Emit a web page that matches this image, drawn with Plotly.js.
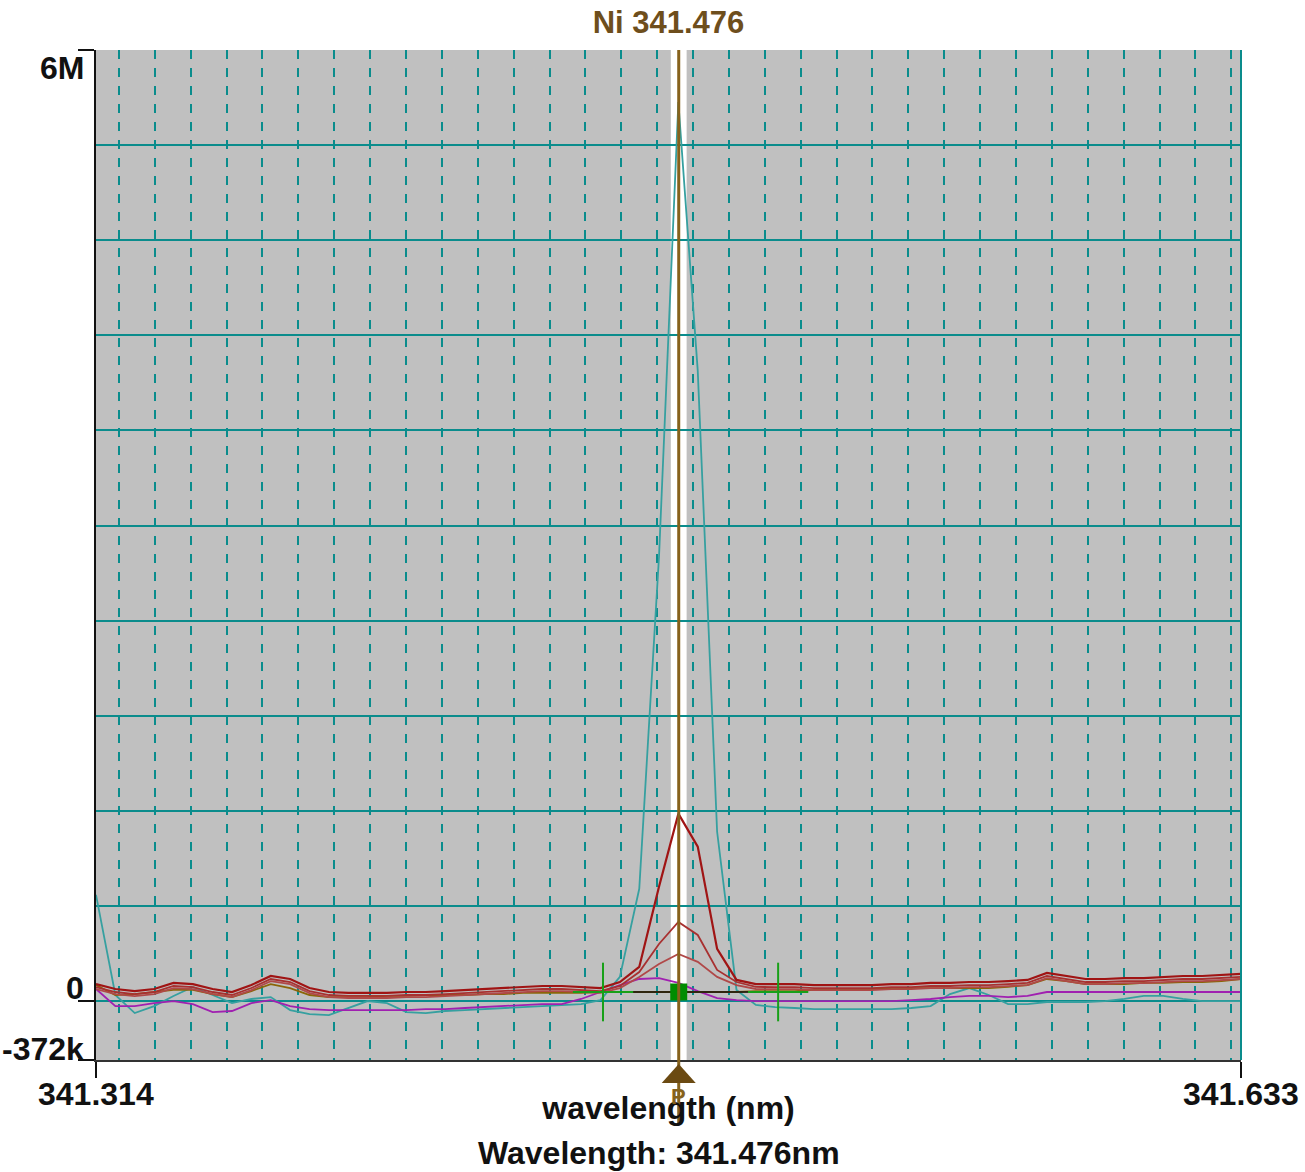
<!DOCTYPE html>
<html>
<head>
<meta charset="utf-8">
<script src="https://cdn.plot.ly/plotly-3.0.1.min.js"></script>
<style>html,body{margin:0;padding:0;background:#fff;}#chart{width:1305px;height:1172px;}</style>
</head>
<body>
<div id="chart"></div>
<script>
// ---- data ----
const wavelength = [341.3136,341.3190,341.3244,341.3298,341.3352,341.3406,341.3461,341.3515,341.3569,341.3623,
  341.3677,341.3731,341.3785,341.3839,341.3893,341.3947,341.4001,341.4055,341.4109,341.4164,
  341.4218,341.4272,341.4326,341.4380,341.4434,341.4488,341.4542,341.4596,341.4650,341.4705,
  341.4759,341.4813,341.4867,341.4921,341.4975,341.5029,341.5083,341.5137,341.5191,341.5245,
  341.5299,341.5353,341.5408,341.5462,341.5516,341.5570,341.5624,341.5678,341.5732,341.5786,
  341.5840,341.5894,341.5948,341.6002,341.6056,341.6110,341.6165,341.6219,341.6273,341.6327];

const tealSeries = [670000,38000,-76000,-32000,32000,89000,38000,-13000,13000,25000,
  -57000,-82000,-89000,-44000,0,-13000,-70000,-76000,-63000,-57000,
  -51000,-44000,-38000,-32000,-25000,-19000,6000,152000,708000,2801000,
  5671000,3977000,1068000,70000,-25000,-38000,-44000,-51000,-51000,-51000,
  -51000,-51000,-44000,-32000,44000,82000,38000,-19000,-19000,-6000,
  -6000,-6000,0,13000,32000,32000,13000,0,0,0];

const red1Series = [107000,76000,63000,76000,114000,107000,76000,57000,101000,158000,
  139000,82000,57000,51000,51000,51000,57000,57000,63000,70000,
  76000,82000,89000,95000,95000,89000,82000,120000,215000,721000,
  1182000,974000,329000,133000,107000,107000,107000,101000,101000,101000,
  101000,107000,107000,114000,114000,120000,120000,126000,133000,177000,
  158000,139000,139000,145000,145000,152000,158000,158000,164000,171000];

const red2Series = [88000,57000,44000,57000,95000,88000,57000,38000,82000,139000,
  120000,63000,38000,32000,32000,32000,38000,38000,44000,51000,
  57000,63000,70000,76000,76000,70000,63000,95000,183000,360000,
  499000,417000,196000,120000,89000,88000,88000,82000,82000,82000,
  82000,88000,88000,95000,95000,101000,101000,107000,114000,158000,
  139000,120000,120000,126000,126000,133000,139000,139000,145000,152000];

const red3Series = [75000,44000,31000,44000,82000,75000,44000,25000,69000,126000,
  107000,50000,25000,19000,19000,19000,25000,25000,31000,38000,
  44000,50000,57000,63000,63000,57000,51000,82000,152000,234000,
  297000,247000,152000,101000,76000,75000,75000,69000,69000,69000,
  69000,75000,75000,82000,82000,88000,88000,94000,101000,145000,
  126000,107000,107000,113000,113000,120000,126000,126000,132000,139000];

const brownSeries = [101000,38000,44000,57000,70000,70000,44000,25000,63000,107000,
  82000,38000,25000,25000,25000,32000,32000,38000,38000,38000,
  44000,44000,51000,51000,51000,51000,57000,57000,57000,57000,
  57000,57000,57000,57000,63000,63000,63000,70000,70000,70000,
  76000,82000,82000,82000,82000,82000,82000,89000,101000,139000,
  126000,107000,107000,107000,114000,114000,120000,120000,126000,139000];

const purpleSeries = [76000,-32000,-32000,-13000,0,-19000,-70000,-63000,-13000,6000,
  -32000,-51000,-57000,-57000,-57000,-57000,-57000,-51000,-51000,-44000,
  -38000,-32000,-25000,-19000,-19000,13000,57000,101000,139000,145000,
  114000,63000,19000,6000,0,0,0,0,0,0,
  0,0,6000,13000,25000,32000,32000,25000,32000,57000,
  57000,57000,57000,57000,57000,57000,57000,57000,57000,57000];

const lineTitle = "Ni 341.476";
const markerWavelength = 341.476;
const bgLeftWl = 341.4549;
const bgRightWl = 341.5037;
const baselineLevel = 57000;
const xRange = [341.3136, 341.6327];
const yRange = [-372000, 6000000];
const xTickLabels = ["341.314", "341.633"];
const yTickVals = [-372000, 0, 6000000];
const yTickLabels = ["-372k", "0", "6M"];
const xAxisTitle = "wavelength (nm)";
const footerText = "Wavelength: 341.476nm";

// ---- styling ----
const FONT = "Liberation Sans, Arial, sans-serif";
const TEAL_GRID = "#0a8c8c";
const BROWN = "#86621c";

const halfSeg = 0.0084;   // half-length of background marker bars (nm)
const halfTick = 185000;  // half-height of background marker bars

const traces = [
  {x: wavelength, y: tealSeries, mode: "lines", line: {color: "#36a0a0", width: 1.8}},
  {x: wavelength, y: purpleSeries, mode: "lines", line: {color: "#a020b0", width: 1.8}},
  {x: wavelength, y: brownSeries, mode: "lines", line: {color: "#8b6508", width: 1.8}},
  {x: wavelength, y: red3Series, mode: "lines", line: {color: "#b04848", width: 1.8}},
  {x: wavelength, y: red2Series, mode: "lines", line: {color: "#a83030", width: 1.8}},
  {x: wavelength, y: red1Series, mode: "lines", line: {color: "#a01414", width: 2.2}},
  {x: [bgLeftWl, bgRightWl], y: [baselineLevel, baselineLevel], mode: "lines",
   line: {color: "#111", width: 1.5}},
  {x: [bgLeftWl - halfSeg, bgLeftWl + halfSeg, null, bgLeftWl, bgLeftWl, null,
       bgRightWl - halfSeg, bgRightWl + halfSeg, null, bgRightWl, bgRightWl],
   y: [baselineLevel, baselineLevel, null, baselineLevel - halfTick, baselineLevel + halfTick, null,
       baselineLevel, baselineLevel, null, baselineLevel - halfTick, baselineLevel + halfTick],
   mode: "lines", connectgaps: false, line: {color: "#18a018", width: 2}},
  {x: [markerWavelength], y: [baselineLevel], mode: "markers",
   marker: {symbol: "square", size: 17, color: "#008c00"}}
];

const textFont = {family: FONT, size: 32, color: "#111", weight: "bold"};

const annotations = [
  {text: yTickLabels[2], xref: "paper", x: 0, xanchor: "right", xshift: -10,
   yref: "y", y: yTickVals[2], yanchor: "middle", yshift: -18, showarrow: false, font: textFont},
  {text: yTickLabels[1], xref: "paper", x: 0, xanchor: "right", xshift: -10,
   yref: "y", y: yTickVals[1], yanchor: "middle", yshift: 13, showarrow: false, font: textFont},
  {text: yTickLabels[0], xref: "paper", x: 0, xanchor: "right", xshift: -10,
   yref: "y", y: yTickVals[0], yanchor: "middle", yshift: 11, showarrow: false, font: textFont},
  {text: xTickLabels[0], xref: "x", x: xRange[0], xanchor: "center",
   yref: "paper", y: 0, yanchor: "top", yshift: -14, showarrow: false, font: textFont},
  {text: xTickLabels[1], xref: "x", x: xRange[1], xanchor: "center",
   yref: "paper", y: 0, yanchor: "top", yshift: -14, showarrow: false, font: textFont},
  {text: "P", xref: "x", x: markerWavelength, xanchor: "center",
   yref: "paper", y: 0, yanchor: "middle", yshift: -36, showarrow: false,
   font: {family: FONT, size: 22, color: BROWN, weight: "bold"}},
  {text: footerText, xref: "paper", x: 0.5, xanchor: "center", xshift: -10,
   yref: "paper", y: 0, yanchor: "middle", yshift: -93, showarrow: false, font: textFont}
];

const shapes = [
  {type: "rect", xref: "x", yref: "paper", x0: markerWavelength - 0.0022, x1: markerWavelength + 0.0022,
   y0: 0, y1: 1, fillcolor: "#ffffff", line: {width: 0}, layer: "below"},
  {type: "line", xref: "paper", yref: "paper", x0: 1, x1: 1, y0: 0, y1: 1,
   line: {color: TEAL_GRID, width: 2}, layer: "above"},
  {type: "line", xref: "x", yref: "paper", x0: markerWavelength, x1: markerWavelength,
   y0: -0.064, y1: 1, line: {color: BROWN, width: 3}, layer: "above"},
  {type: "path", xref: "x", xsizemode: "pixel", xanchor: markerWavelength,
   yref: "paper", ysizemode: "pixel", yanchor: 0,
   path: "M-17,-23 L17,-23 L0,-4 Z", fillcolor: "#6b4a12", line: {width: 0}, layer: "above"}
];

const layout = {
  width: 1305, height: 1172,
  margin: {l: 96, r: 64, t: 50, b: 112},
  paper_bgcolor: "#ffffff",
  plot_bgcolor: "#c0c0c0",
  showlegend: false,
  title: {text: lineTitle, x: 0.5, xref: "paper", xanchor: "center",
          y: 1 - 22 / 1172, yref: "container", yanchor: "middle",
          font: {family: FONT, size: 31, color: "#6e4e1c", weight: "bold"}},
  xaxis: {
    range: xRange, type: "linear",
    tickvals: xRange, ticktext: xTickLabels, showticklabels: false,
    ticks: "outside", ticklen: 16, tickwidth: 2, tickcolor: "#111",
    showgrid: false, zeroline: false,
    showline: true, linecolor: "#333", linewidth: 2,
    minor: {tick0: 341.32, dtick: 0.01, showgrid: true, gridcolor: TEAL_GRID,
            gridwidth: 2, griddash: "dash", ticks: ""},
    title: {text: xAxisTitle, standoff: 20, font: textFont}
  },
  yaxis: {
    range: yRange, type: "linear",
    tickvals: yTickVals, ticktext: yTickLabels, showticklabels: false,
    ticks: "outside", ticklen: 16, tickwidth: 2, tickcolor: "#111",
    showgrid: true, gridcolor: TEAL_GRID, gridwidth: 2, zeroline: false,
    showline: true, linecolor: "#111", linewidth: 2,
    minor: {tick0: 0, dtick: 600000, showgrid: true, gridcolor: TEAL_GRID, gridwidth: 2, ticks: ""}
  },
  annotations: annotations,
  shapes: shapes
};

Plotly.newPlot("chart", traces, layout, {staticPlot: true, displayModeBar: false});
</script>
</body>
</html>
